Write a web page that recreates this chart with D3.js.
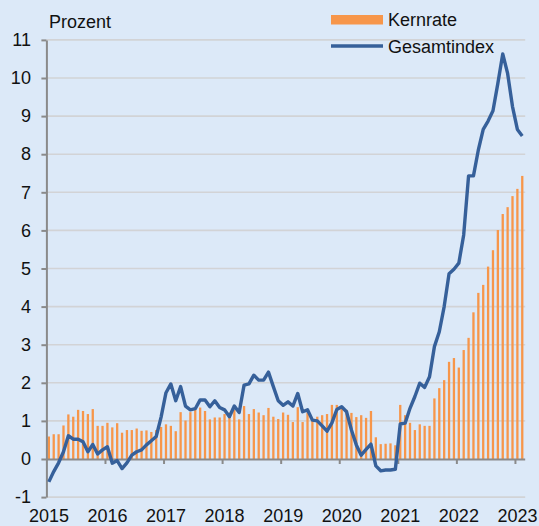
<!DOCTYPE html>
<html>
<head>
<meta charset="utf-8">
<script src="https://cdn.jsdelivr.net/npm/d3@7"></script>
<style>
  html, body { margin: 0; padding: 0; background: #dce9f8; }
  svg { display: block; }
  text { font-family: "Liberation Sans", Arial, sans-serif; fill: #111; }
</style>
</head>
<body>
<svg id="chart" width="539" height="526"></svg>
<script>
// ---- Data ----
const years = ["2015", "2016", "2017", "2018", "2019", "2020", "2021", "2022", "2023"];
const yTicks = [-1, 0, 1, 2, 3, 4, 5, 6, 7, 8, 9, 10, 11];
const seriesNames = ["Kernrate", "Gesamtindex"];
const yTitle = "Prozent";

// Kernrate (bars), monthly Jan 2015 - Feb 2023
const kernrate = [
  0.59, 0.65, 0.65, 0.88, 1.17, 1.11, 1.29, 1.26, 1.18, 1.31, 0.87, 0.87,
  0.95, 0.83, 0.94, 0.69, 0.76, 0.76, 0.80, 0.74, 0.75, 0.71, 0.76, 0.84,
  0.91, 0.87, 0.73, 1.23, 1.01, 1.23, 1.29, 1.35, 1.26, 1.04, 1.09, 1.09,
  1.18, 1.22, 1.29, 1.04, 1.39, 1.18, 1.31, 1.22, 1.15, 1.34, 1.11, 1.05,
  1.22, 1.16, 0.97, 1.36, 0.97, 1.22, 1.00, 1.11, 1.15, 1.18, 1.42, 1.42,
  1.35, 1.29, 1.21, 1.10, 1.15, 1.08, 1.26, 0.57, 0.39, 0.40, 0.41, 0.36,
  1.42, 1.15, 0.95, 0.76, 0.91, 0.87, 0.87, 1.59, 1.86, 2.07, 2.55, 2.65,
  2.40, 2.86, 3.18, 3.85, 4.36, 4.57, 5.05, 5.48, 6.01, 6.43, 6.61, 6.90,
  7.09, 7.43
];

// Gesamtindex (line), monthly Jan 2015 - Feb 2023
const gesamtindex = [
  -0.60, -0.33, -0.10, 0.19, 0.61, 0.52, 0.52, 0.45, 0.19, 0.38, 0.13, 0.24,
  0.32, -0.11, -0.04, -0.25, -0.10, 0.10, 0.19, 0.24, 0.37, 0.48, 0.59, 1.10,
  1.74, 1.97, 1.53, 1.90, 1.39, 1.29, 1.32, 1.55, 1.55, 1.37, 1.53, 1.35,
  1.29, 1.11, 1.39, 1.22, 1.94, 1.97, 2.20, 2.07, 2.07, 2.28, 1.90, 1.53,
  1.41, 1.50, 1.39, 1.72, 1.24, 1.29, 1.02, 1.00, 0.87, 0.73, 0.95, 1.30,
  1.37, 1.24, 0.76, 0.37, 0.10, 0.25, 0.39, -0.18, -0.31, -0.29, -0.29, -0.27,
  0.92, 0.94, 1.33, 1.64, 1.99, 1.88, 2.16, 2.95, 3.34, 4.00, 4.86, 4.98,
  5.14, 5.88, 7.43, 7.43, 8.11, 8.65, 8.87, 9.14, 9.86, 10.63, 10.12, 9.25,
  8.65, 8.48
];

// Month categories derived from the year labels
const months = [];
years.forEach(yr => { for (let m = 1; m <= 12; m++) months.push(yr + "-" + String(m).padStart(2, "0")); });
const categories = months.slice(0, kernrate.length);

// ---- Layout ----
const svg = d3.select("#chart");
const plotLeft = 46.4, plotRight = 524.7, plotTop = 39.9, plotBottom = 497.1;
const C_BAR = "#f7964a", C_LINE = "#36609a", C_GRID = "#d2d3d6", C_AXIS = "#8a8a8a";

const x = d3.scaleBand().domain(categories).range([plotLeft, plotRight]).padding(0);
const xPos = d3.scaleLinear().domain([0, categories.length]).range([plotLeft, plotRight]);
const y = d3.scaleLinear().domain([-1, 11]).range([plotBottom, plotTop]);

// background
svg.append("rect").attr("width", 539).attr("height", 526).attr("fill", "#dce9f8");

// gridlines
svg.append("g").selectAll("line").data(yTicks.filter(d => d !== 0)).join("line")
  .attr("x1", plotLeft).attr("x2", plotRight + 0.5)
  .attr("y1", d => y(d)).attr("y2", d => y(d))
  .attr("stroke", C_GRID).attr("stroke-width", 1.6);

// bars
const barW = 2.3;
svg.append("g").selectAll("rect").data(kernrate).join("rect")
  .attr("x", (d, i) => x(categories[i]) + x.bandwidth() / 2 - barW / 2)
  .attr("width", barW)
  .attr("y", d => Math.min(y(d), y(0)))
  .attr("height", d => Math.abs(y(0) - y(d)))
  .attr("fill", C_BAR);

// x axis at zero
const xAxis = d3.axisBottom(xPos)
  .tickValues(years.slice(1).map((d, k) => (k + 1) * 12))
  .tickFormat("").tickSize(5).tickSizeOuter(0);
const gx = svg.append("g").attr("transform", `translate(0,${y(0)})`).call(xAxis);
gx.select(".domain").attr("stroke", C_AXIS).attr("stroke-width", 2);
gx.selectAll(".tick line").attr("stroke", C_AXIS).attr("stroke-width", 2);

// y axis
const yAxis = d3.axisLeft(y).tickValues(yTicks).tickSize(5).tickSizeOuter(0).tickFormat(d => String(d));
const gy = svg.append("g").attr("transform", `translate(${plotLeft},0)`).call(yAxis);
gy.select(".domain").attr("stroke", C_AXIS).attr("stroke-width", 2);
gy.selectAll(".tick line").attr("stroke", C_AXIS).attr("stroke-width", 2);
gy.selectAll(".tick text")
  .attr("x", -15.5)
  .style("font-size", "18px")
  .style("font-family", '"Liberation Sans", Arial, sans-serif')
  .attr("fill", "#111");

// x labels
svg.append("g").selectAll("text").data(years).join("text")
  .attr("x", (d, k) => xPos(k * 12) + 2.5)
  .attr("y", 522)
  .attr("text-anchor", "middle")
  .style("font-size", "18px")
  .text(d => d);

// line
const line = d3.line()
  .x((d, i) => x(categories[i]) + x.bandwidth() / 2)
  .y(d => y(d));
svg.append("path").datum(gesamtindex)
  .attr("d", line)
  .attr("fill", "none")
  .attr("stroke", C_LINE)
  .attr("stroke-width", 3.4)
  .attr("stroke-linejoin", "round");

// y title
svg.append("text").attr("x", 49).attr("y", 28).style("font-size", "18px").text(yTitle);

// legend
const lg = svg.append("g");
lg.append("rect").attr("x", 331).attr("y", 15).attr("width", 52).attr("height", 9.5).attr("fill", C_BAR);
lg.append("text").attr("x", 388).attr("y", 26).style("font-size", "18px").text(seriesNames[0]);
lg.append("line").attr("x1", 331).attr("x2", 383).attr("y1", 46).attr("y2", 46)
  .attr("stroke", C_LINE).attr("stroke-width", 3.4);
lg.append("text").attr("x", 388).attr("y", 53).style("font-size", "18px").text(seriesNames[1]);
</script>
</body>
</html>
